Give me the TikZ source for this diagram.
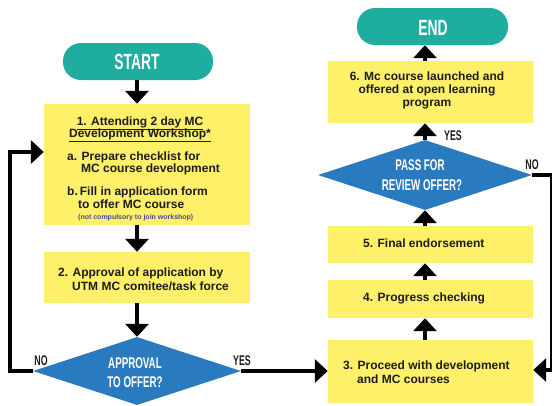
\documentclass[tikz,border=0pt]{standalone}
\usepackage{fontspec}
\usetikzlibrary{arrows.meta,shapes.geometric}
\setmainfont{Liberation Sans}
\newfontfamily\headfont[FakeStretch=0.63]{Liberation Sans}
\definecolor{boxyellow}{RGB}{255,240,106}
\definecolor{decblue}{RGB}{42,122,191}
\definecolor{termteal}{RGB}{31,173,159}
\definecolor{inktext}{RGB}{28,28,28}
\definecolor{notecol}{RGB}{72,72,150}
\begin{document}
\begin{tikzpicture}[x=1pt,y=-1pt,
  stepbox/.style={draw=none,fill=boxyellow,rectangle,inner sep=0pt},
  termbox/.style={draw=none,fill=termteal,rectangle,rounded corners=18pt,inner sep=0pt,minimum width=150pt,minimum height=37pt},
  decision/.style={draw=none,fill=decblue,diamond,inner sep=0pt},
  body/.style={inner sep=0pt,text=inktext,font=\fontsize{12}{13}\selectfont\bfseries},
  note/.style={inner sep=0pt,text=notecol,font=\fontsize{7}{8}\selectfont\bfseries},
  headtxt/.style={inner sep=0pt,text=white,font=\fontsize{22}{24}\selectfont\headfont\bfseries},
  dectxt/.style={inner sep=0pt,text=white,font=\fontsize{15.5}{17}\selectfont\headfont\bfseries},
  branch/.style={inner sep=0pt,text=inktext,font=\fontsize{14}{15}\selectfont\headfont\bfseries},
  flow/.style={line width=3.5pt,-{Triangle[width=23pt,length=13pt]}},
  flowline/.style={line width=3.5pt}]
\useasboundingbox (0,0) rectangle (552,405);
\fill[white] (0,0) rectangle (552,405);

% terminals
\node[termbox] (start) at (138,61.5) {};
\node[termbox,minimum width=151pt] (finish) at (432.5,26.5) {};
\node[headtxt,anchor=base] (starttxt) at (137,69.5) {START};
\node[headtxt,anchor=base] (endtxt) at (433,35) {END};

% left column
\node[stepbox,minimum width=206pt,minimum height=121pt] (b1) at (147,164.5) {};
\node[stepbox,minimum width=206pt,minimum height=51pt] (b2) at (147,277.5) {};
\node[decision,minimum width=208pt,minimum height=68pt] (d1) at (137,371) {};

% right column
\node[stepbox,minimum width=205pt,minimum height=63pt] (b3) at (430.5,371.5) {};
\node[stepbox,minimum width=205pt,minimum height=38pt] (b4) at (430.5,299) {};
\node[stepbox,minimum width=205pt,minimum height=37pt] (b5) at (430.5,244.5) {};
\node[decision,minimum width=214pt,minimum height=70pt] (d2) at (425,175) {};
\node[stepbox,minimum width=205pt,minimum height=62pt] (b6) at (430.5,92) {};

% step 1 text
\node[body,anchor=base] (t1a) at (140,125.5) {\underline{1. Attending 2 day MC}};
\node[body,anchor=base] (t1b) at (140,137.5) {\underline{Development Workshop*}};
\node[body,anchor=base west] (t1c) at (67,160) {a. Prepare checklist for};
\node[body,anchor=base west] (t1d) at (81,172.7) {MC course development};
\node[body,anchor=base west] (t1e) at (67,195.7) {b.\,Fill in application form};
\node[body,anchor=base west] (t1f) at (78,208.3) {to offer MC course};
\node[note,anchor=base west] (t1g) at (78,219.5) {(not compulsory to join workshop)};

% step 2 text
\node[body,anchor=base west] (t2a) at (58,276.7) {2. Approval of application by};
\node[body,anchor=base west] (t2b) at (72,290) {UTM MC comitee/task force};

% decision texts
\node[dectxt,anchor=base] (q1a) at (135,368) {APPROVAL};
\node[dectxt,anchor=base] (q1b) at (135,387) {TO OFFER?};
\node[dectxt,anchor=base] (q2a) at (420,170) {PASS FOR};
\node[dectxt,anchor=base] (q2b) at (422,190) {REVIEW OFFER?};

% steps 3 to 6 text
\node[body,anchor=base west] (t3a) at (343,369.3) {3. Proceed with development};
\node[body,anchor=base west] (t3b) at (357,383.3) {and MC courses};
\node[body,anchor=base west] (t4) at (363,301.7) {4. Progress checking};
\node[body,anchor=base west] (t5) at (363,247.3) {5. Final endorsement};
\node[body,anchor=base] (t6a) at (427,80) {6. Mc course launched and};
\node[body,anchor=base] (t6b) at (427,93.3) {offered at open learning};
\node[body,anchor=base] (t6c) at (427,106.7) {program};

% branch labels
\node[branch,anchor=base] (no1) at (41,365) {NO};
\node[branch,anchor=base] (yes1) at (242,365) {YES};
\node[branch,anchor=base] (yes2) at (453,140) {YES};
\node[branch,anchor=base] (no2) at (532,169) {NO};

% loop corners
\coordinate (loopL) at (10,152);
\coordinate (loopR) at (552,370);
\coordinate (midL) at (137,0);
\coordinate (midR) at (425,0);

% connectors, left column
\draw[flow] (start.south -| midL) -- (b1.north -| midL);
\draw[flow] (b1.south -| midL) -- (b2.north -| midL);
\draw[flow] (b2.south -| midL) -- (d1.north);
\draw[flow] (d1.west) -| (loopL) -- (b1.west |- loopL);
\draw[flow] (d1.east) -- (b3.west |- d1.east);

% connectors, right column
\draw[flow] (b3.north -| midR) -- (b4.south -| midR);
\draw[flow] (b4.north -| midR) -- (b5.south -| midR);
\draw[flow] (b5.north -| midR) -- (d2.south);
\draw[flow] (d2.north) -- (b6.south -| midR);
\draw[flow] (b6.north -| midR) -- (finish.south -| midR);
\draw[flow] (d2.east) -| (loopR) -- (b3.east |- loopR);
\end{tikzpicture}
\end{document}
